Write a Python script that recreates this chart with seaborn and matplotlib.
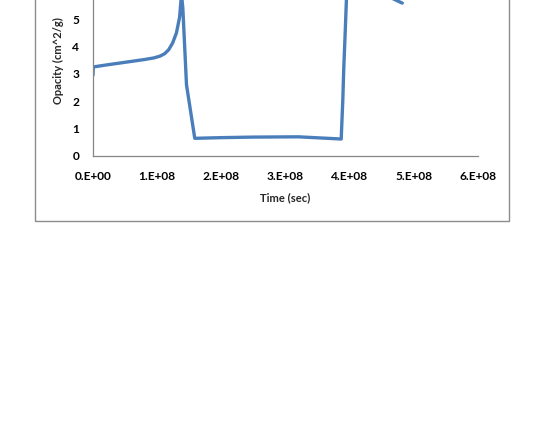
import matplotlib
matplotlib.use("Agg")
import matplotlib.pyplot as plt
import seaborn as sns
import numpy as np
from matplotlib.patches import Rectangle

# Data (time in seconds, opacity in cm^2/g)
time_1e8 = [0.0, 0.005, 0.2, 0.5, 0.8, 0.95, 1.05, 1.12, 1.18, 1.24, 1.30, 1.35,
            1.379, 1.40, 1.457, 1.586, 2.0, 2.5, 3.2, 3.868, 3.893, 3.909,
            3.93, 3.95, 4.0, 4.3, 4.6, 4.82]
opacity = [2.95, 3.25, 3.32, 3.42, 3.52, 3.58, 3.65, 3.74, 3.88, 4.12, 4.49, 5.07,
           5.9, 5.4, 2.6, 0.645, 0.67, 0.69, 0.70, 0.62, 2.04, 3.26,
           4.49, 5.75, 6.3, 6.1, 5.82, 5.58]
time_sec = [t * 1e8 for t in time_1e8]

xticks = [0, 1e8, 2e8, 3e8, 4e8, 5e8, 6e8]
xticklabels = ["0.E+00", "1.E+08", "2.E+08", "3.E+08", "4.E+08", "5.E+08", "6.E+08"]
yticks = [0, 1, 2, 3, 4, 5]

sns.set_style("white")
plt.rcParams["font.family"] = ["Lato", "DejaVu Sans"]

W, H = 545, 421
fig = plt.figure(figsize=(W / 100, H / 100), dpi=100)

# chart border (Excel chart area), top extends past the figure
x0, x1 = 35 / W, 509 / W
yb = (H - 221) / H
fig.patches.append(Rectangle((x0, yb), x1 - x0, 1.2 - yb, transform=fig.transFigure,
                             fill=False, edgecolor="#8c8c8c", linewidth=1.0))

left = 93 / W
right = 478 / W
bottom = (H - 156) / H
height = 7 * 27.4 / H
ax = fig.add_axes([left, bottom, right - left, height])

sns.lineplot(x=time_sec, y=opacity, ax=ax, color="#4a7ebb", linewidth=2.4,
             sort=False, estimator=None)

ax.set_xlim(0, 6e8)
ax.set_ylim(0, 7)
ax.set_xticks(xticks)
ax.set_xticklabels(xticklabels, fontsize=8.6, fontweight="bold")
ax.set_yticks(yticks)
ax.set_yticklabels([str(v) for v in yticks], fontsize=8.6, fontweight="bold")
ax.set_xlabel("Time (sec)", fontsize=8.0, fontweight="bold", labelpad=7)
ax.set_ylabel("Opacity (cm^2/g)", fontsize=8.0, fontweight="bold", labelpad=6)

for s in ["top", "right"]:
    ax.spines[s].set_visible(False)
for s in ["left", "bottom"]:
    ax.spines[s].set_color("#868686")
    ax.spines[s].set_linewidth(0.9)
ax.tick_params(axis="both", which="both", direction="out", length=4, width=0.9,
               color="#868686", labelcolor="black")
ax.tick_params(axis="x", pad=7)
ax.tick_params(axis="y", pad=6)
ax.grid(False)

fig.savefig("out.png", dpi=100)
